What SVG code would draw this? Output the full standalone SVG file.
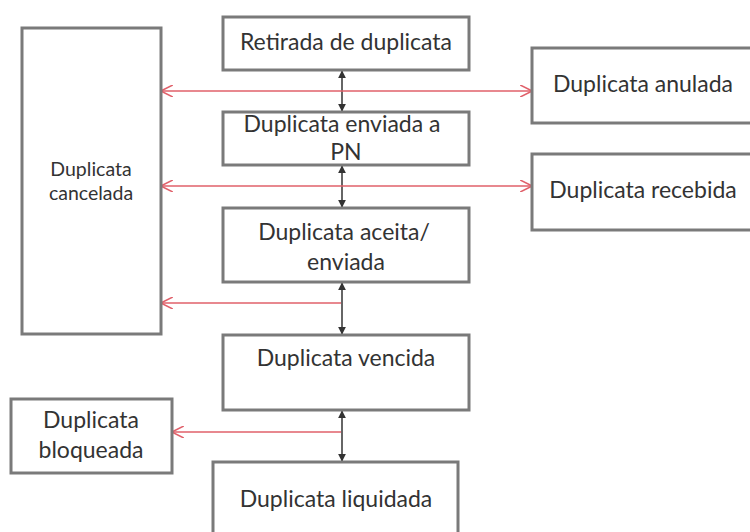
<svg xmlns="http://www.w3.org/2000/svg" width="750" height="532" viewBox="0 0 750 532">
<style>
.box{fill:#fff;stroke:#7a7a7a;stroke-width:3}
.t{font-family:Lato,"Liberation Sans",sans-serif;font-size:23px;fill:#333;text-anchor:middle}
.ts{font-size:19.5px}
.blk{stroke:#333;stroke-width:1.5;fill:none}
.red{stroke:#e0606a;stroke-width:1.6;fill:none}
</style>
<defs>
<marker id="ab" viewBox="0 0 10 10" refX="9" refY="5" markerWidth="8" markerHeight="8" markerUnits="userSpaceOnUse" orient="auto-start-reverse"><path d="M0,0L10,5L0,10z" fill="#333"/></marker>
<marker id="ar" viewBox="0 0 10 10" refX="9" refY="5" markerWidth="12" markerHeight="12" markerUnits="userSpaceOnUse" orient="auto-start-reverse"><path d="M0,0L10,5L0,10" fill="none" stroke="#e0606a" stroke-width="1.3"/></marker>
</defs>
<rect width="750" height="532" fill="#fff"/>
<g id="connectors">
<line class="blk" x1="342" y1="71" x2="342" y2="111" marker-start="url(#ab)" marker-end="url(#ab)"/>
<line class="blk" x1="342" y1="166" x2="342" y2="207" marker-start="url(#ab)" marker-end="url(#ab)"/>
<line class="blk" x1="342" y1="283" x2="342" y2="334" marker-start="url(#ab)" marker-end="url(#ab)"/>
<line class="blk" x1="342" y1="411" x2="342" y2="461" marker-start="url(#ab)" marker-end="url(#ab)"/>
<line class="red" x1="162" y1="91" x2="531" y2="91" marker-start="url(#ar)" marker-end="url(#ar)"/>
<line class="red" x1="162" y1="186" x2="531" y2="186" marker-start="url(#ar)" marker-end="url(#ar)"/>
<line class="red" x1="341" y1="303" x2="162" y2="303" marker-end="url(#ar)"/>
<line class="red" x1="341" y1="432" x2="173" y2="432" marker-end="url(#ar)"/>
</g>
<g id="cancelada"><rect class="box" x="22" y="28" width="139" height="306"/><text class="t ts" x="91" y="176">Duplicata</text><text class="t ts" x="91" y="200">cancelada</text></g>
<g id="retirada"><rect class="box" x="223" y="17" width="246" height="53"/><text class="t" x="346" y="50">Retirada de duplicata</text></g>
<g id="enviadaPN"><rect class="box" x="223" y="112" width="246" height="53"/><text class="t" x="342" y="132">Duplicata enviada a</text><text class="t" x="346" y="160">PN</text></g>
<g id="aceita"><rect class="box" x="223" y="208" width="246" height="74"/><text class="t" x="344" y="240">Duplicata aceita/</text><text class="t" x="346" y="270">enviada</text></g>
<g id="vencida"><rect class="box" x="223" y="335" width="246" height="75"/><text class="t" x="346" y="366">Duplicata vencida</text></g>
<g id="liquidada"><rect class="box" x="213" y="462" width="245" height="80"/><text class="t" x="336" y="507">Duplicata liquidada</text></g>
<g id="bloqueada"><rect class="box" x="11" y="399" width="161" height="74"/><text class="t" x="91" y="428">Duplicata</text><text class="t" x="91" y="458">bloqueada</text></g>
<g id="anulada"><rect class="box" x="532" y="48" width="230" height="75"/><text class="t" x="643" y="92">Duplicata anulada</text></g>
<g id="recebida"><rect class="box" x="532" y="154" width="230" height="76"/><text class="t" x="643" y="198">Duplicata recebida</text></g>
</svg>
